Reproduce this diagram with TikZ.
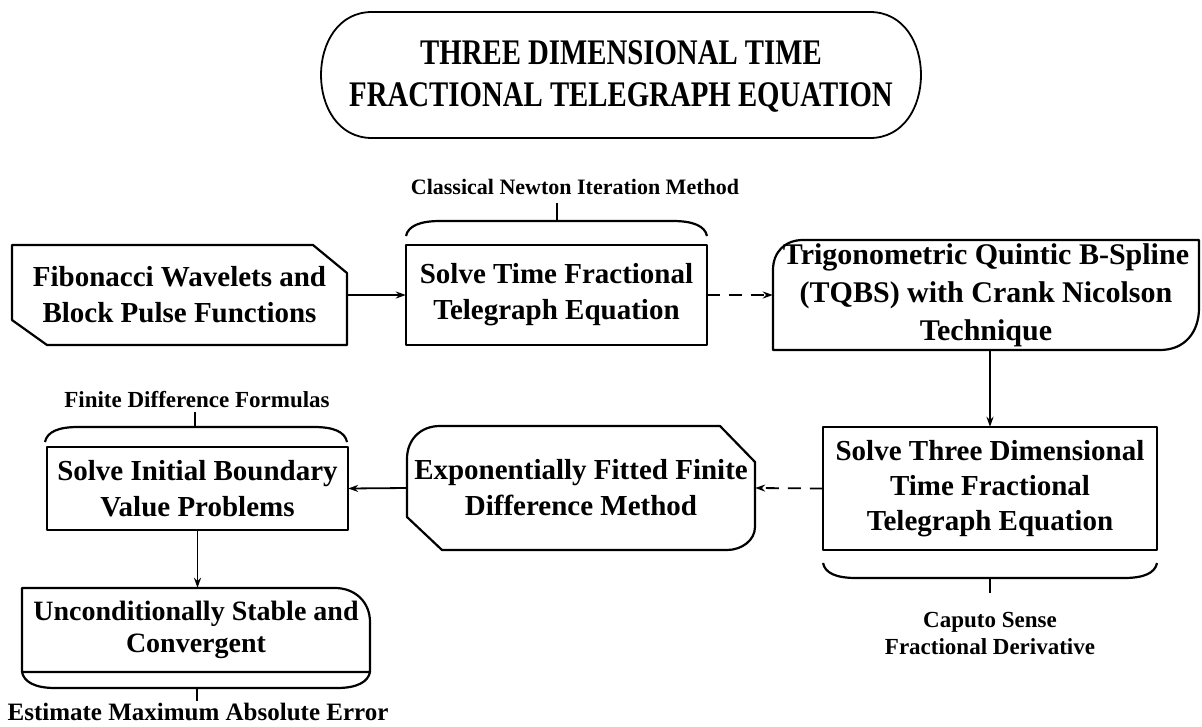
\documentclass[tikz,border=0pt]{standalone}
\usepackage{fontspec}
\setmainfont{Liberation Serif}
\newfontfamily\titlefont[FakeStretch=0.8]{Liberation Serif}
\usetikzlibrary{arrows.meta}
\begin{document}
\begin{tikzpicture}[x=1pt,y=-1pt,
  box/.style={draw=none, inner sep=0pt, align=center, font=\fontsize{29}{36}\selectfont\bfseries},
  lbl/.style={inner sep=0pt, align=center, font=\fontsize{22}{27}\selectfont\bfseries},
  outline/.style={line width=2.2pt, line join=round},
  arr/.style={line width=1.8pt, -{Stealth[length=10pt,width=7pt]}},
  darr/.style={arr, dash pattern=on 13pt off 9pt}]
\useasboundingbox (0,0) rectangle (1202,726);

% title
\node[inner sep=0pt, align=center, font=\titlefont\fontsize{36}{42}\selectfont\bfseries] (title) at (621,76) {THREE DIMENSIONAL TIME\\FRACTIONAL TELEGRAPH EQUATION};
\draw[line width=1.8pt] (372,12) -- (870,12) .. controls (938,12) and (938,138) .. (870,138) -- (372,138) .. controls (304,138) and (304,12) .. (372,12) -- cycle;

% boxes (nodes)
\node[box, minimum width=335pt, minimum height=100pt] (fib) at (179.5,295) {Fibonacci Wavelets and\\Block Pulse Functions};
\node[box, minimum width=301pt, minimum height=100pt] (solve1) at (556.5,295) {Solve Time Fractional\\Telegraph Equation};
\node[box, minimum width=426pt, minimum height=110pt, font=\fontsize{30}{38}\selectfont\bfseries] (tqbs) at (986,295) {Trigonometric Quintic B-Spline\\(TQBS) with Crank Nicolson\\Technique};
\node[box, minimum width=334pt, minimum height=123pt, font=\fontsize{29}{35}\selectfont\bfseries] (solve3) at (990,488.5) {Solve Three Dimensional\\Time Fractional\\Telegraph Equation};
\node[box, minimum width=348pt, minimum height=124pt] (expo) at (581,488) {Exponentially Fitted Finite\\Difference Method};
\node[box, minimum width=301pt, minimum height=83pt] (init) at (197.5,488.5) {Solve Initial Boundary\\Value Problems};
\node[box, minimum width=348pt, minimum height=84pt, font=\fontsize{28}{32}\selectfont\bfseries] (uncond) at (196,630) {Unconditionally Stable and\\Convergent};

% outlines
\draw[outline] (12,245) -- (313,245) -- (347,273) -- (347,345) -- (47,345) -- (12,320) -- cycle;
\draw[outline] (406,245) rectangle (707,345);
\draw[outline] (773,350) -- (773,270) .. controls (773,252) and (785,240) .. (803,240) -- (1199,240) -- (1199,308) .. controls (1199,332) and (1185,350) .. (1160,350) -- cycle;
\draw[outline] (823,427) rectangle (1157,550);
\draw[outline] (407,517) -- (407,459) .. controls (407,440) and (420,426) .. (440,426) -- (720,426) -- (755,462) -- (755,527) .. controls (755,540) and (742,550) .. (727,550) -- (442,550) -- cycle;
\draw[outline] (47,447) rectangle (348,530);
\draw[outline] (22,588) -- (335,588) .. controls (355,588) and (370,602) .. (370,622) -- (370,672) -- (22,672) -- cycle;

% braces and their labels
\node[lbl] (cnim) at (575,187) {Classical Newton Iteration Method};
\coordinate (cnimtick) at (557,221);
\draw[outline] (406,236) .. controls (408,226) and (420,221) .. (440,221) -- (673,221) .. controls (693,221) and (705,226) .. (707,236);
\draw[outline] (cnimtick) -- (557,203);

\node[lbl, font=\fontsize{23}{27}\selectfont\bfseries] (fdf) at (197,400) {Finite Difference Formulas};
\draw[outline] (45,442) .. controls (47,432) and (58,427) .. (78,427) -- (314,427) .. controls (334,427) and (345,432) .. (347,442);
\draw[outline] (195,427) -- (195,412);

\node[lbl, font=\fontsize{23}{27}\selectfont\bfseries] (caputo) at (990,633) {Caputo Sense\\Fractional Derivative};
\draw[outline] (823,563) .. controls (825,573) and (836,578) .. (856,578) -- (1124,578) .. controls (1144,578) and (1155,573) .. (1157,563);
\draw[outline] (990,578) -- (990,593);

\node[lbl, font=\fontsize{25}{29}\selectfont\bfseries] (err) at (198,712) {Estimate Maximum Absolute Error};
\draw[outline] (22,672) .. controls (24,682) and (35,688) .. (55,688) -- (337,688) .. controls (357,688) and (368,682) .. (370,672);
\draw[outline] (197,688) -- (197,701);

% connectors
\draw[arr] (fib.east) -- (solve1.west);
\draw[darr] (solve1.east) -- (tqbs.west);
\draw[arr] (tqbs.south -| solve3.north) -- (solve3.north);
\draw[darr] (solve3.west) -- (expo.east);
\draw[arr] (expo.west) -- (init.east);
\draw[arr] (init.south) -- (init.south |- uncond.north);
\end{tikzpicture}
\end{document}
